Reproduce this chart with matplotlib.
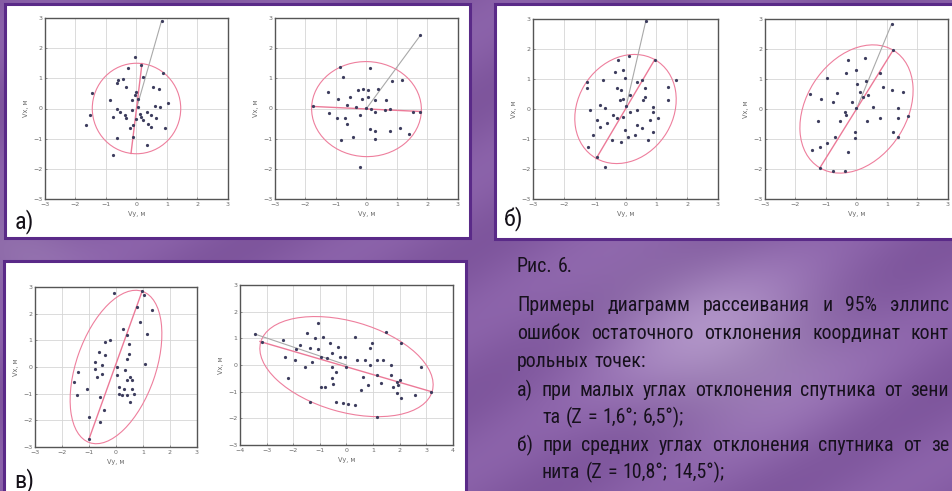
import numpy as np
import matplotlib
matplotlib.use("Agg")
import matplotlib.pyplot as plt
from matplotlib.patches import Ellipse, Rectangle
from matplotlib import font_manager as fm

# ---------------- data ----------------
a1_x = [-0.05, -0.27, 0.16, 0.22, 0.87, -0.6, -0.44, -0.65, -1.47, -0.33, 0.55, 0.74, -0.05, 0.0, 0.05,
        -0.16, -0.87, 1.04, 0.6, 0.76, -0.65, -0.55, -0.38, -0.16, 0.11, 0.33, 0.49, 0.65, 0.22, 0.38,
        0.49, -0.02, -0.11, -0.33, -0.76, -1.53, -1.64, 0.93, -0.65, -0.11, 0.33, -0.76, -0.22, 0.05, 0.16, 0.82]
a1_y = [1.71, 1.33, 1.44, 1.05, 1.18, 0.94, 0.99, 0.83, 0.5, 0.7, 0.72, 0.63, 0.44, 0.55, 0.33,
        0.28, 0.28, 0.17, 0.08, 0.06, 0.0, -0.11, -0.22, -0.06, -0.17, -0.11, -0.22, -0.3, -0.39, -0.52,
        -0.61, -0.36, -0.55, -0.33, -0.28, -0.22, -0.55, -0.66, -0.99, -0.94, -1.22, -1.55, -0.66, 0.06, -0.28, 2.9]

a2_x = [1.77, -0.87, 0.11, -0.76, 0.82, 1.15, -1.25, -0.27, -0.11, 0.05, 0.38, -0.55, -0.93, -0.16, 0.05,
        0.27, 0.65, -0.65, -0.33, 0.0, 0.16, 0.6, 0.76, 1.53, 1.77, -1.22, -0.98, -0.71, -0.65, -0.22,
        0.11, 0.27, 0.76, 1.09, 1.4, -0.44, -0.82, 0.27, -0.22, -1.75, 0.27]
a2_y = [2.43, 1.38, 1.33, 1.05, 0.91, 0.96, 0.55, 0.61, 0.66, 0.61, 0.63, 0.39, 0.3, 0.3, 0.39,
        0.28, 0.28, 0.11, 0.06, 0.03, -0.03, -0.05, 0.0, -0.11, -0.11, -0.16, -0.33, -0.33, -0.52, -0.22,
        -0.69, -0.74, -0.76, -0.66, -0.83, -0.94, -1.05, -1.02, -1.93, 0.08, -0.11]

b1_x = [0.66, -0.24, 0.12, 0.95, -0.35, -0.08, -1.26, -1.26, -0.72, -0.02, 0.36, 0.52, 1.63, -0.29, -0.13,
        0.63, 1.38, 0.63, 0.57, 1.38, 0.14, -0.08, -0.18, -0.83, -1.16, -0.67, 0.03, 0.14, 0.36, 0.9,
        0.9, -0.4, -0.29, -0.94, -0.83, -0.61, -0.08, 0.36, 0.52, 0.79, 1.06, 0.9, -0.02, -1.05, -0.45,
        -0.13, 0.09, 0.3, 0.74, -1.21, -0.94, -0.67]
b1_y = [2.94, 1.63, 1.76, 1.63, 1.24, 1.3, 0.91, 0.69, 0.96, 1.02, 0.91, 0.96, 0.96, 0.69, 0.65,
        0.69, 0.72, 0.41, 0.3, 0.3, 0.47, 0.35, 0.3, 0.13, -0.03, 0.02, 0.1, -0.09, -0.03, 0.08,
        -0.09, -0.2, -0.31, -0.37, -0.59, -0.48, -0.25, -0.53, -0.64, -0.37, -0.31, -0.75, -0.7, -0.86, -1.03,
        -1.09, -0.92, -0.86, -1.03, -1.25, -1.59, -1.92]

b2_x = [1.15, -0.27, 0.27, 0.0, -0.35, -0.98, 0.76, 0.02, 0.3, 0.87, 1.15, 1.53, -1.53, -0.65, -1.15,
        0.11, 0.22, 0.38, -0.16, 0.0, -0.76, 0.55, 1.36, -0.38, -0.33, -0.55, -1.25, 0.33, 0.76, 1.36,
        1.69, -0.05, -0.05, -0.71, -0.98, -1.2, -1.47, -0.27, 1.2, 1.36, -0.76, -0.38, -1.2, 1.2]
b2_y = [2.83, 1.63, 1.69, 1.3, 1.21, 1.05, 1.21, 0.83, 0.94, 0.72, 0.63, 0.58, 0.5, 0.52, 0.35,
        0.58, 0.41, 0.47, 0.24, 0.02, 0.24, 0.06, 0.02, -0.09, -0.2, -0.39, -0.39, -0.39, -0.31, -0.31,
        -0.23, -0.75, -0.98, -0.92, -1.14, -1.25, -1.36, -1.42, -0.75, -0.92, -2.08, -2.08, -1.97, 1.96]

c1_x = [-0.09, 0.97, 1.03, 1.34, 0.78, 0.9, 1.15, 0.25, 0.41, -0.4, -0.21, -0.64, -0.4, 0.47, 0.47,
        0.41, 1.09, -0.77, -0.52, -0.77, -0.52, -0.71, -1.39, -1.57, -1.45, -1.08, 0.04, 0.04, 0.35, 0.53,
        0.59, 0.41, 0.1, 0.28, 0.1, 0.22, 0.41, 0.59, 0.66, 0.53, -0.58, -0.46, -0.58, -1.01, -1.01]
c1_y = [2.79, 2.85, 2.69, 2.13, 2.25, 1.69, 1.25, 1.44, 1.19, 0.94, 1.03, 0.56, 0.44, 0.88, 0.5,
        0.31, 0.13, 0.19, 0.06, -0.06, -0.25, -0.38, -0.19, -0.56, -1.06, -0.81, 0.0, -0.31, -0.13, -0.38,
        -0.5, -0.5, -0.75, -0.81, -1.0, -1.06, -1.06, -0.81, -1.0, -1.31, -1.13, -1.63, -2.06, -1.88, -2.69]

c2_x = [-3.44, -3.19, -2.38, -2.31, -2.19, -1.94, -1.88, -1.75, -1.5, -1.38, -1.31, -1.56, -1.06, -1.19, -0.88,
        -1.06, -0.94, -0.75, -0.63, -0.31, -0.56, -0.25, -0.06, -0.56, -0.38, -0.56, -0.5, -0.94, -0.81, -1.38,
        -0.38, -0.13, 0.06, 0.31, 0.31, 0.38, 0.69, 0.94, 0.88, 1.13, 1.38, 0.88, 1.13, 0.63, 0.56,
        0.81, 1.31, 1.69, 1.69, 1.75, 1.88, 2.0, 1.94, 1.88, 2.06, 2.06, 1.5, 2.56, 2.81, 3.19, 1.13, 0.0]
c2_y = [1.16, 0.88, 0.94, 0.31, -0.5, 0.19, 0.59, 0.75, 1.21, 0.63, 0.13, -0.06, 1.56, 1.0, 1.04,
        0.59, 0.31, 0.25, 0.81, 0.66, 0.44, 0.31, 0.31, -0.06, -0.25, -0.5, -0.71, -0.81, -0.81, -1.38,
        -1.38, -1.41, -1.46, -1.5, 1.06, 0.19, 0.19, 0.84, 0.63, 0.19, 0.19, 0.0, -0.38, -0.44, -0.94,
        -0.75, -0.69, 0.0, -0.38, -0.81, -0.63, -0.56, -0.75, -1.06, -1.25, 0.81, 1.25, -1.13, -0.06, -1.0, -1.94, -0.06]

# ellipse: centre x, centre y, width, height, angle
a1_ell = [0.0, 0.0, 2.9, 3.0, 0]
a2_ell = [0.0, -0.02, 3.6, 3.15, -2]
b1_ell = [0.0, 0.0, 3.8, 3.1, 60]
b2_ell = [0.0, 0.0, 4.6, 3.3, 58]
c1_ell = [0.0, 0.0, 6.0, 2.94, 71]
c2_ell = [0.0, -0.06, 6.7, 3.4, -16]
# major axis segments
a1_axis = [[-0.18, 0.18], [-1.49, 1.49]]
a2_axis = [[-1.8, 1.8], [0.07, -0.1]]
b1_axis = [[-0.95, 0.95], [-1.65, 1.65]]
b2_axis = [[-1.2, 1.2], [-1.96, 1.96]]
c1_axis = [[-1.0, 0.97], [-2.7, 2.85]]
c2_axis = [[-3.25, 3.19], [0.88, -1.0]]
# line from centre to the outlier
a1_out = [[0.0, 0.82], [0.0, 2.9]]
a2_out = [[0.0, 1.77], [0.0, 2.43]]
b1_out = [[0.0, 0.66], [0.0, 2.94]]
b2_out = [[0.0, 1.15], [0.0, 2.83]]
c1_out = None
c2_out = [[0.0, -3.44], [0.0, 1.16]]

ticks3 = [-3, -2, -1, 0, 1, 2, 3]
ticks4 = [-4, -3, -2, -1, 0, 1, 2, 3, 4]

# (text, x start, baseline, justified to right edge?)
caption = [
    ("Рис. 6.", 517, 272, False),
    ("Примеры диаграмм рассеивания и 95% эллипс", 517, 311, True),
    ("ошибок остаточного отклонения координат конт", 517, 339, True),
    ("рольных точек:", 517, 367, False),
    ("а) при малых углах отклонения спутника от зени", 517, 396, True),
    ("та (Z = 1,6°; 6,5°);", 542, 423, False),
    ("б) при средних углах отклонения спутника от зе", 517, 451, True),
    ("нита (Z = 10,8°; 14,5°);", 542, 478, False),
]


# ---------------- font choice ----------------
def pick_font():
    for fam in ["Liberation Sans Narrow", "Roboto Condensed", "Open Sans Condensed",
                "Noto Sans Condensed", "DejaVu Sans Condensed"]:
        try:
            fm.findfont(fm.FontProperties(family=fam), fallback_to_default=False)
            return {"family": fam}, True
        except Exception:
            pass
    for fam in ["Noto Sans", "DejaVu Sans", "Open Sans", "Roboto"]:
        try:
            p = fm.findfont(fm.FontProperties(family=fam, stretch="condensed"), fallback_to_default=False)
            if "ondensed" in p or "Narrow" in p:
                return {"family": fam, "stretch": "condensed"}, True
        except Exception:
            pass
    return {"family": "Liberation Sans"}, False


FONT, IS_NARROW = pick_font()
CAP_SIZE = 14.3 if IS_NARROW else 12.6

# ---------------- figure ----------------
W, H = 953, 491
fig = plt.figure(figsize=(W / 100, H / 100), dpi=100)

bg = fig.add_axes([0, 0, 1, 1])
bg.axis("off")
yy, xx = np.mgrid[0:H, 0:W]
base = np.array([0.52, 0.36, 0.64])
light = np.array([0.82, 0.76, 0.88])
blob = 0.5 * np.exp(-(((xx - 720) / 120.0) ** 2 + ((yy - 340) / 85.0) ** 2))
blob += 0.25 * np.exp(-(((xx - 20) / 60.0) ** 2 + ((yy - 250) / 40.0) ** 2))
shade = 0.05 * np.sin(xx / 37.0 + yy / 23.0)
img = base[None, None, :] * (1 - blob[..., None]) + light[None, None, :] * blob[..., None]
img = np.clip(img + shade[..., None] * 0.5, 0, 1)
bg.imshow(img, extent=[0, W, H, 0], aspect="auto", zorder=0)
bg.set_xlim(0, W)
bg.set_ylim(H, 0)

border = "#5a2a88"
for (x0, y0, w, h) in [(5, 4, 465, 234), (495, 4, 470, 235), (4, 261, 462, 240)]:
    bg.add_patch(Rectangle((x0, y0), w, h, facecolor="white", edgecolor=border, lw=2.2, zorder=1))

for s, x, y in [("а)", 15, 228), ("б)", 504, 225), ("в)", 14, 487)]:
    bg.text(x, y, s, fontsize=17.5 if IS_NARROW else 16, color="#141018", va="baseline",
            zorder=3, **FONT)

renderer = fig.canvas.get_renderer()
RIGHT = 949
for line, x0, yb, just in caption:
    words = line.split(" ")
    texts = [bg.text(0, yb, w_, fontsize=CAP_SIZE, color="#17111d", va="baseline", ha="left",
                     zorder=3, **FONT) for w_ in words]
    widths = [t.get_window_extent(renderer).width for t in texts]
    space = 0.27 * CAP_SIZE * 100 / 72
    if just and len(words) > 1:
        gap = max((RIGHT - x0 - sum(widths)) / (len(words) - 1), 2.5)
    else:
        gap = space
    x = x0
    for t, wd in zip(texts, widths):
        t.set_x(x)
        x += wd + gap


def px_axes(x0, y0, x1, y1):
    return fig.add_axes([x0 / W, 1 - y1 / H, (x1 - x0) / W, (y1 - y0) / H])


def panel(rect, xs, ys, ell, axis, out, xt):
    ax = px_axes(*rect)
    ax.set_xlim(xt[0], xt[-1])
    ax.set_ylim(-3, 3)
    ax.set_xticks(xt)
    ax.set_yticks(ticks3)
    ax.grid(True, color="#d6d6d6", lw=0.6)
    ax.set_axisbelow(True)
    for sp in ax.spines.values():
        sp.set_color("#555555")
        sp.set_linewidth(1.0)
    ax.tick_params(labelsize=4.5, colors="#6a6a6a", length=1.5, width=0.5, pad=2, direction="in")
    ax.set_xlabel("Vy, м", fontsize=4.8, color="#6a6a6a", labelpad=3)
    ax.set_ylabel("Vx, м", fontsize=4.8, color="#6a6a6a", labelpad=3)
    ax.add_patch(Ellipse((ell[0], ell[1]), ell[2], ell[3], angle=ell[4], fill=False,
                         edgecolor="#ee7f9d", lw=0.8, zorder=2))
    if out is not None:
        ax.plot(out[0], out[1], color="#a9a9a9", lw=0.8, zorder=2)
    ax.plot(axis[0], axis[1], color="#ec7a98", lw=1.0, zorder=2)
    ax.plot(xs, ys, ls="none", marker="o", ms=1.3, color="#3d3d5e", zorder=3)
    return ax


panel((45, 18, 228, 199), a1_x, a1_y, a1_ell, a1_axis, a1_out, ticks3)
panel((275, 18, 458, 199), a2_x, a2_y, a2_ell, a2_axis, a2_out, ticks3)
panel((533, 19, 718, 199), b1_x, b1_y, b1_ell, b1_axis, b1_out, ticks3)
panel((765, 19, 948, 199), b2_x, b2_y, b2_ell, b2_axis, b2_out, ticks3)
panel((35, 287, 197, 447), c1_x, c1_y, c1_ell, c1_axis, c1_out, ticks3)
panel((240, 285, 453, 445), c2_x, c2_y, c2_ell, c2_axis, c2_out, ticks4)

fig.savefig("out.png", dpi=100)
